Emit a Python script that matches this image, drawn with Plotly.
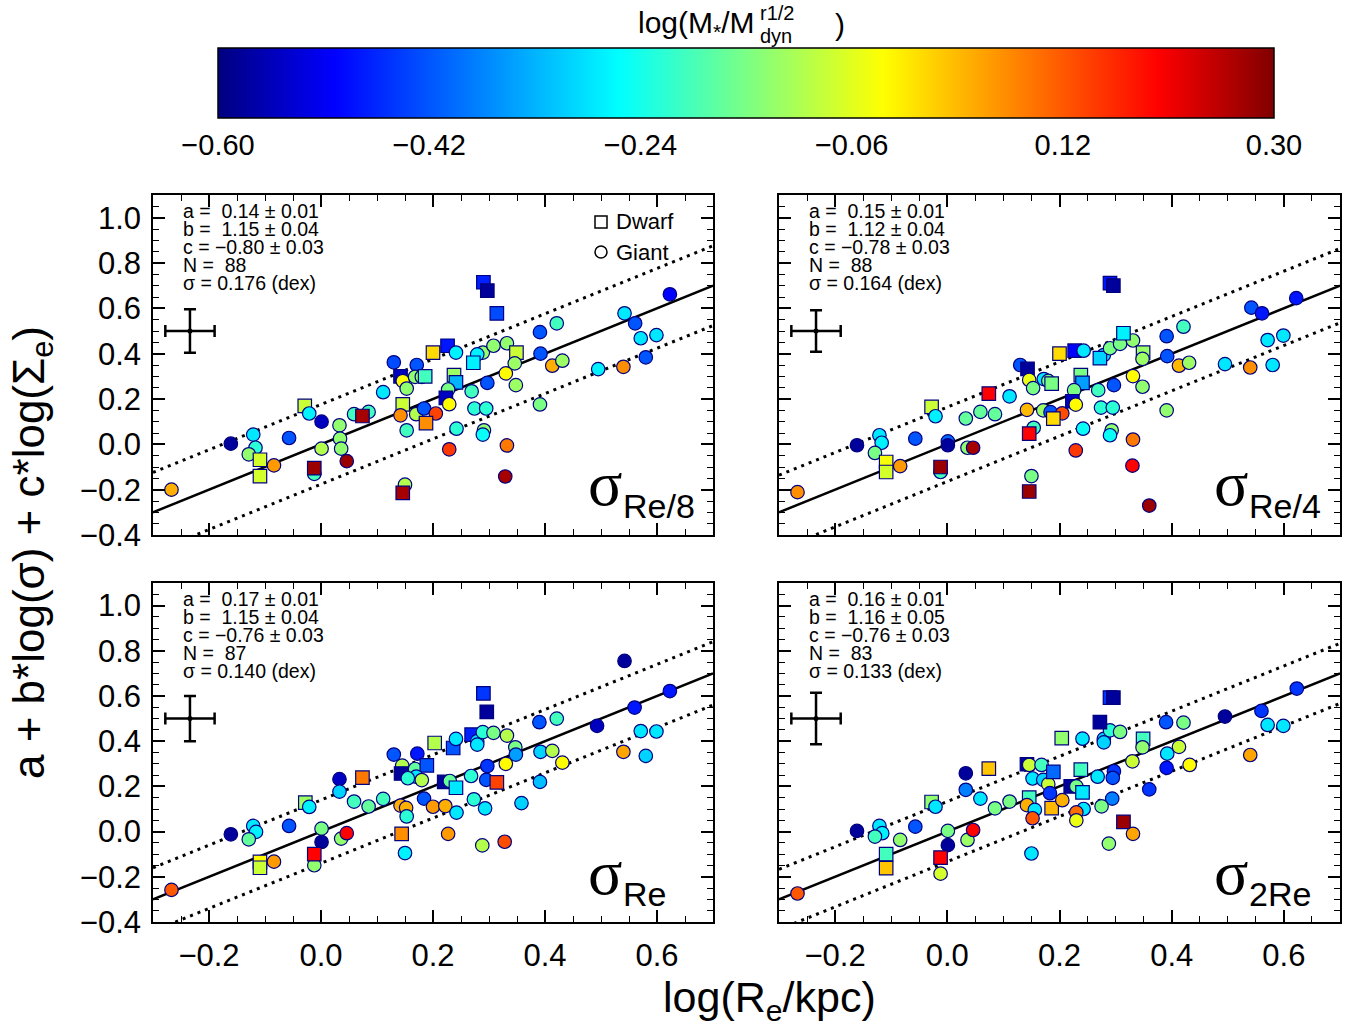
import plotly.graph_objects as go
import numpy as np

W, H = 1356, 1032
FONT = "Liberation Sans"

# ---------------- data ----------------
# panel 1: sigma_Re/8
re8_x = [-0.267,-0.161,-0.121,-0.117,-0.129,-0.109,-0.109,-0.084,-0.057,-0.029,-0.021,0.001,-0.012,-0.012,0.001,0.033,0.034,0.036,0.046,0.059,
         0.085,0.074,0.111,0.130,0.142,0.146,0.153,0.171,0.168,0.180,0.186,0.200,0.146,0.142,0.170,0.184,0.205,0.1875,0.153,0.150,
         0.146,0.290,0.297,0.314,0.226,0.241,0.289,0.308,0.332,0.279,0.272,0.349,0.346,0.391,0.421,0.392,0.413,0.431,0.330,0.297,
         0.348,0.269,0.274,0.295,0.391,0.291,0.289,0.242,0.229,0.332,0.329,0.2375,0.241,0.227,0.223,0.229,0.495,0.540,0.542,0.561,
         0.571,0.599,0.580,0.623]
re8_y = [-0.200,0.003,0.043,-0.015,-0.044,-0.068,-0.140,-0.093,0.028,0.170,0.136,0.100,-0.130,-0.105,-0.019,0.084,0.025,-0.019,-0.074,0.133,
         0.143,0.125,0.230,0.362,0.300,0.279,0.246,0.350,0.298,0.298,0.300,0.405,0.176,0.128,0.133,0.158,0.136,0.094,0.062,-0.178,
         -0.214,0.715,0.678,0.578,0.435,0.405,0.405,0.435,0.446,0.397,0.360,0.405,0.357,0.495,0.534,0.400,0.347,0.369,0.313,0.271,
         0.261,0.234,0.158,0.158,0.176,0.062,0.043,0.069,-0.022,-0.005,-0.142,0.305,0.273,0.242,0.205,0.177,0.332,0.342,0.578,0.534,
         0.468,0.482,0.384,0.662]
re8_c = [0.04,-0.58,-0.28,-0.22,-0.13,-0.07,-0.07,0.06,-0.42,-0.08,-0.27,-0.55,-0.20,0.28,-0.10,-0.13,-0.13,-0.13,0.28,-0.20,
         -0.20,0.27,-0.28,-0.43,-0.55,-0.03,-0.13,-0.42,-0.13,-0.13,-0.20,0.00,-0.08,0.07,-0.10,-0.42,0.14,0.07,-0.20,-0.10,
         0.27,-0.47,-0.58,-0.43,-0.48,-0.27,-0.13,-0.13,-0.13,-0.27,-0.27,-0.08,-0.12,-0.42,-0.20,-0.42,0.04,-0.12,-0.03,-0.42,
         -0.12,-0.20,-0.22,-0.22,-0.15,-0.13,-0.25,-0.22,0.15,0.09,0.27,-0.12,-0.33,-0.15,-0.55,-0.03,-0.27,0.07,-0.28,-0.42,
         -0.28,-0.28,-0.42,-0.50]
re8_d = [0,0,0,0,0,1,1,0,0,1,0,0,0,1,0,0,0,0,0,0,
         0,1,0,0,1,0,0,0,0,0,1,1,1,0,0,0,0,1,0,0,
         1,1,1,1,1,0,0,0,0,0,1,1,0,0,0,0,0,0,0,0,
         0,0,0,0,0,0,0,0,0,0,0,1,1,0,1,0,0,0,0,0,
         0,0,0,0]

# panel 2: sigma_Re/4
re4_x = [-0.267,-0.161,-0.121,-0.117,-0.129,-0.109,-0.109,-0.084,-0.057,-0.028,-0.021,0.001,0.001,-0.012,-0.012,0.033,0.036,0.046,0.059,0.085,
         0.074,0.111,0.130,0.143,0.146,0.153,0.172,0.180,0.186,0.200,0.142,0.171,0.184,0.205,0.189,0.154,0.146,0.150,0.146,0.227,
         0.243,0.279,0.272,0.290,0.308,0.331,0.314,0.349,0.348,0.391,0.392,0.238,0.241,0.226,0.223,0.229,0.269,0.297,0.331,0.348,
         0.274,0.295,0.391,0.242,0.293,0.290,0.229,0.331,0.330,0.360,0.290,0.296,0.421,0.413,0.431,0.495,0.540,0.542,0.561,0.571,
         0.599,0.580,0.622]
re4_y = [-0.211,-0.004,0.040,0.007,-0.038,-0.078,-0.122,-0.096,0.025,0.165,0.124,0.013,-0.004,-0.122,-0.100,0.114,-0.015,-0.015,0.143,0.133,
         0.224,0.212,0.350,0.333,0.284,0.248,0.288,0.280,0.268,0.400,0.152,0.150,0.142,0.137,0.113,0.073,0.047,-0.140,-0.208,0.413,
         0.413,0.394,0.380,0.424,0.443,0.458,0.490,0.405,0.377,0.477,0.389,0.305,0.271,0.239,0.190,0.175,0.239,0.261,0.301,0.254,
         0.162,0.162,0.150,0.069,0.062,0.040,-0.027,0.021,-0.094,-0.270,0.711,0.700,0.519,0.347,0.360,0.354,0.339,0.603,0.578,0.460,
         0.480,0.350,0.645]
re4_c = [0.07,-0.58,-0.28,-0.27,-0.15,-0.04,-0.07,0.06,-0.42,-0.08,-0.27,-0.40,-0.58,-0.20,0.28,-0.17,-0.13,0.27,-0.17,-0.17,
         0.20,-0.28,-0.42,-0.58,-0.05,-0.15,-0.28,-0.15,-0.15,0.00,0.03,-0.12,-0.42,0.13,0.00,-0.20,0.20,-0.15,0.28,-0.50,
         -0.28,-0.28,-0.30,-0.15,-0.15,-0.13,-0.27,-0.12,-0.12,-0.42,-0.42,-0.15,-0.35,-0.15,-0.55,-0.03,-0.20,-0.42,-0.03,-0.13,
         -0.22,-0.22,-0.13,-0.25,-0.13,-0.25,0.15,0.09,0.20,0.28,-0.48,-0.58,-0.20,0.03,-0.12,-0.28,0.07,-0.42,-0.48,-0.28,
         -0.28,-0.28,-0.48]
re4_d = [0,0,0,0,0,1,1,0,0,1,0,0,0,0,1,0,0,0,0,0,
         1,0,0,1,0,0,0,0,1,1,0,0,0,0,1,0,1,0,1,1,
         0,0,1,0,0,0,1,1,0,0,0,1,1,0,1,0,0,0,0,0,
         0,0,0,0,0,0,0,0,0,0,1,1,0,0,0,0,0,0,0,0,
         0,0,0]

# panel 3: sigma_Re
re_x = [-0.267,-0.161,-0.121,-0.116,-0.129,-0.109,-0.109,-0.084,-0.057,-0.028,-0.021,0.001,0.001,-0.012,-0.012,0.033,0.033,0.036,0.046,0.059,
        0.085,0.074,0.111,0.130,0.172,0.203,0.236,0.241,0.269,0.279,0.279,0.289,0.308,0.332,0.296,0.290,0.347,0.348,0.392,0.390,
        0.421,0.493,0.413,0.431,0.145,0.143,0.168,0.189,0.170,0.180,0.155,0.184,0.142,0.152,0.153,0.220,0.230,0.241,0.268,0.297,
        0.330,0.295,0.314,0.200,0.222,0.242,0.273,0.293,0.358,0.391,0.144,0.227,0.288,0.328,0.150,0.542,0.540,0.560,0.571,0.599,
        0.580,0.623]
re_y = [-0.258,-0.012,0.025,-0.001,-0.034,-0.134,-0.160,-0.133,0.025,0.128,0.109,0.013,-0.046,-0.149,-0.100,0.232,0.177,-0.031,-0.007,0.133,
        0.111,0.239,0.145,0.341,0.345,0.392,0.370,0.410,0.429,0.400,0.385,0.440,0.437,0.425,0.530,0.612,0.373,0.341,0.353,0.484,
        0.500,0.468,0.357,0.305,0.292,0.257,0.277,0.293,0.243,0.228,0.236,0.146,0.115,0.105,0.067,0.220,0.224,0.194,0.246,0.290,
        0.300,0.229,0.218,0.110,0.113,0.084,0.143,0.103,0.126,0.220,-0.010,-0.010,-0.061,-0.045,-0.095,0.755,0.353,0.549,0.445,0.443,
        0.335,0.622]
re_c = [0.12,-0.58,-0.28,-0.27,-0.17,-0.03,-0.08,0.06,-0.42,-0.12,-0.27,-0.15,-0.58,-0.13,0.20,-0.55,-0.30,-0.13,0.20,-0.20,
        -0.17,0.09,-0.20,-0.42,-0.48,-0.10,-0.42,-0.28,-0.47,-0.28,-0.28,-0.22,-0.15,-0.10,-0.58,-0.45,-0.15,-0.35,-0.30,-0.42,
        -0.20,-0.55,-0.10,-0.03,-0.10,-0.58,-0.17,-0.42,-0.28,-0.10,-0.22,-0.42,0.04,0.04,-0.22,-0.58,-0.17,-0.28,-0.22,-0.45,
        -0.03,-0.42,0.14,0.06,0.04,-0.28,-0.22,-0.28,-0.30,-0.32,0.07,0.06,-0.10,0.13,-0.27,-0.58,0.05,-0.48,-0.28,-0.28,
        -0.30,-0.48]
re_d = [0,0,0,0,0,1,1,0,0,1,0,0,0,0,1,0,0,0,0,0,
        0,1,0,0,0,1,1,0,1,0,0,0,0,0,1,1,0,0,0,0,
        0,0,0,0,0,1,0,1,0,0,0,0,0,0,0,1,0,1,0,0,
        0,0,1,0,0,0,0,0,0,0,1,0,0,0,0,0,0,0,0,0,
        0,0]

# panel 4: sigma_2Re
re2_x = [-0.267,-0.161,-0.121,-0.116,-0.129,-0.109,-0.109,-0.084,-0.057,-0.028,-0.021,0.001,0.001,-0.012,-0.012,0.033,0.033,0.036,0.046,0.059,
         0.085,0.111,0.074,0.142,0.146,0.168,0.152,0.171,0.180,0.189,0.146,0.142,0.156,0.152,0.186,0.183,0.150,0.204,0.241,0.279,
         0.279,0.290,0.308,0.349,0.348,0.390,0.392,0.391,0.272,0.290,0.296,0.238,0.220,0.230,0.241,0.268,0.297,0.295,0.330,0.294,
         0.360,0.205,0.243,0.230,0.230,0.275,0.314,0.331,0.288,0.421,0.495,0.413,0.432,0.540,0.560,0.571,0.599,0.623]
re2_y = [-0.274,0.003,0.025,-0.007,-0.022,-0.100,-0.162,-0.037,0.022,0.131,0.110,0.003,-0.060,-0.186,-0.115,0.258,0.185,-0.037,0.007,0.146,
         0.103,0.133,0.279,0.298,0.295,0.295,0.235,0.229,0.210,0.264,0.150,0.117,0.096,0.059,0.104,0.170,-0.097,0.414,0.411,0.410,
         0.395,0.448,0.441,0.410,0.373,0.484,0.345,0.282,0.484,0.593,0.593,0.274,0.200,0.200,0.174,0.243,0.267,0.238,0.311,0.146,
         0.187,0.139,0.100,0.085,0.050,0.112,0.043,-0.010,-0.053,0.482,0.509,0.375,0.295,0.339,0.534,0.472,0.468,0.633]
re2_c = [0.12,-0.58,-0.28,-0.27,-0.20,-0.20,0.02,-0.13,-0.42,-0.13,-0.28,-0.15,-0.58,-0.07,0.20,-0.58,-0.38,-0.12,0.20,-0.28,
         -0.15,-0.15,0.02,-0.58,-0.08,-0.20,-0.28,-0.30,-0.08,-0.40,-0.20,0.04,-0.28,0.12,0.03,-0.45,-0.28,-0.13,-0.28,-0.30,
         -0.30,-0.22,-0.15,-0.20,-0.13,-0.42,-0.28,-0.48,-0.58,-0.45,-0.58,-0.20,-0.58,-0.15,-0.28,-0.28,-0.45,-0.42,-0.08,-0.38,
         -0.45,0.04,-0.28,0.10,-0.05,-0.15,0.28,0.05,-0.13,-0.15,-0.58,-0.08,-0.03,0.05,-0.45,-0.28,-0.28,-0.45]
re2_d = [0,0,0,0,0,1,1,0,0,1,0,0,0,0,1,0,0,0,0,0,
         0,0,1,1,0,0,0,0,0,1,1,0,0,0,1,0,0,1,0,0,
         0,0,0,1,0,0,0,0,1,1,1,1,1,0,1,0,0,0,0,0,
         0,0,0,0,0,0,1,0,0,0,0,0,0,0,0,0,0,0]

panel_names = ["Re/8", "Re/4", "Re", "2Re"]
fit_a = ["0.14", "0.15", "0.17", "0.16"]
fit_b = ["1.15", "1.12", "1.15", "1.16"]
fit_berr = ["0.04", "0.04", "0.04", "0.05"]
fit_c = ["\u22120.80", "\u22120.78", "\u22120.76", "\u22120.76"]
fit_n = ["88", "88", "87", "83"]
fit_sigma = [0.176, 0.164, 0.140, 0.133]
err_y = [0.096, 0.092, 0.100, 0.114]
err_x = 0.044
err_pos = (-0.234, 0.50)

cb_ticks = [-0.60, -0.42, -0.24, -0.06, 0.12, 0.30]
cb_labels = ["\u22120.60", "\u22120.42", "\u22120.24", "\u22120.06", "0.12", "0.30"]
x_ticks = [-0.2, 0.0, 0.2, 0.4, 0.6]
x_labels = ["\u22120.2", "0.0", "0.2", "0.4", "0.6"]
y_ticks = [-0.4, -0.2, 0.0, 0.2, 0.4, 0.6, 0.8, 1.0]
y_labels = ["\u22120.4", "\u22120.2", "0.0", "0.2", "0.4", "0.6", "0.8", "1.0"]
x_range = [-0.3, 0.7]
y_range = [-0.4, 1.1]
cmin, cmax = -0.6, 0.3

jet = [[0.0, "#000080"], [0.11, "#0000FF"], [0.38, "#00FFFF"],
       [0.63, "#FFFF00"], [0.89, "#FF0000"], [1.0, "#800000"]]

panels = [
    (re8_x, re8_y, re8_c, re8_d),
    (re4_x, re4_y, re4_c, re4_d),
    (re_x, re_y, re_c, re_d),
    (re2_x, re2_y, re2_c, re2_d),
]

# pixel boxes of the four plotting areas (left, right, top, bottom)
boxes = [(153, 713, 195, 535), (779, 1340, 195, 535),
         (153, 713, 583, 922), (779, 1340, 583, 922)]


def fx(p):
    return p / W


def fy(p):
    return 1 - p / H


fig = go.Figure()
annotations = []
shapes = []

for i, (px_, py_, pc_, pd_) in enumerate(panels):
    k = "" if i == 0 else str(i + 1)
    xa, ya = "x" + k, "y" + k
    l, r, t, b = boxes[i]
    sig = fit_sigma[i]
    lx = np.array(x_range)
    # fit line and +-sigma lines
    fig.add_trace(go.Scatter(x=lx, y=lx, mode="lines", xaxis=xa, yaxis=ya,
                             line=dict(color="black", width=2.5), showlegend=False, hoverinfo="skip"))
    for s in (sig, -sig):
        fig.add_trace(go.Scatter(x=lx, y=lx + s, mode="lines", xaxis=xa, yaxis=ya,
                                 line=dict(color="black", width=3, dash="3px,5px"),
                                 showlegend=False, hoverinfo="skip"))
    # data
    marker = dict(color=pc_, cmin=cmin, cmax=cmax, colorscale=jet, size=13.5,
                  symbol=["square" if d else "circle" for d in pd_],
                  line=dict(color="#000080", width=1.2))
    if i == 0:
        marker["showscale"] = True
        marker["colorbar"] = dict(
            orientation="h", xref="container", yref="container",
            x=fx(746), xanchor="center", y=fy(48), yanchor="top",
            len=1056, lenmode="pixels", thickness=70, thicknessmode="pixels",
            outlinewidth=1.5, outlinecolor="black", xpad=0, ypad=0,
            tickvals=cb_ticks, ticktext=cb_labels, ticks="outside", ticklen=2,
            tickcolor="rgba(0,0,0,0)", tickfont=dict(size=29, family=FONT, color="black"))
    else:
        marker["showscale"] = False
    fig.add_trace(go.Scatter(x=px_, y=py_, mode="markers", xaxis=xa, yaxis=ya,
                             marker=marker, showlegend=False))
    # typical error
    fig.add_trace(go.Scatter(x=[err_pos[0]], y=[err_pos[1]], mode="markers", xaxis=xa, yaxis=ya,
                             marker=dict(color="black", size=5),
                             error_x=dict(type="data", array=[err_x], color="black", thickness=2.5, width=6),
                             error_y=dict(type="data", array=[err_y[i]], color="black", thickness=2.5, width=6),
                             showlegend=False))
    # fit parameter text
    lines = ["a =\u00a0\u00a0" + fit_a[i] + " \u00b1 0.01",
             "b =\u00a0\u00a0" + fit_b[i] + " \u00b1 " + fit_berr[i],
             "c = " + fit_c[i] + " \u00b1 0.03",
             "N =\u00a0\u00a0" + fit_n[i],
             "\u03c3 = %.3f (dex)" % sig]
    for j, txt in enumerate(lines):
        annotations.append(dict(text=txt, x=fx(l + 28), y=fy(t + 16 + 18 * j), xref="paper", yref="paper",
                                xanchor="left", yanchor="middle", showarrow=False,
                                font=dict(size=19.5, family=FONT, color="black")))
    # panel label
    annotations.append(dict(text="\u03c3", x=fx(l + 452), y=fy(t + 289), xref="paper", yref="paper",
                            xanchor="center", yanchor="middle", showarrow=False,
                            font=dict(size=64, family="Liberation Serif", color="black")))
    annotations.append(dict(text=panel_names[i], x=fx(l + 468), y=fy(t + 311), xref="paper", yref="paper",
                            xanchor="left", yanchor="middle", showarrow=False,
                            font=dict(size=34, family=FONT, color="black")))

# legend in first panel
l, r, t, b = boxes[0]
shapes.append(dict(type="rect", xref="paper", yref="paper", x0=fx(l + 442), x1=fx(l + 454),
                   y0=fy(t + 33), y1=fy(t + 21), line=dict(color="black", width=1.5)))
shapes.append(dict(type="circle", xref="paper", yref="paper", x0=fx(l + 442), x1=fx(l + 454),
                   y0=fy(t + 63), y1=fy(t + 51), line=dict(color="black", width=1.5)))
for j, name in enumerate(["Dwarf", "Giant"]):
    annotations.append(dict(text=name, x=fx(l + 461), y=fy(t + 27 + 30 * j), xref="paper", yref="paper",
                            xanchor="left", yanchor="middle", showarrow=False,
                            font=dict(size=22, family=FONT, color="black")))

# colorbar title
annotations.append(dict(text="log(M<sub>*</sub>/M", x=fx(757), y=fy(24), xref="paper", yref="paper",
                        xanchor="right", yanchor="middle", showarrow=False,
                        font=dict(size=30, family=FONT, color="black")))
annotations.append(dict(text="r1/2", x=fx(758), y=fy(13), xref="paper", yref="paper",
                        xanchor="left", yanchor="middle", showarrow=False,
                        font=dict(size=20, family=FONT, color="black")))
annotations.append(dict(text="dyn", x=fx(758), y=fy(36), xref="paper", yref="paper",
                        xanchor="left", yanchor="middle", showarrow=False,
                        font=dict(size=20, family=FONT, color="black")))
annotations.append(dict(text=")", x=fx(833), y=fy(24), xref="paper", yref="paper",
                        xanchor="left", yanchor="middle", showarrow=False,
                        font=dict(size=30, family=FONT, color="black")))

# axis titles
annotations.append(dict(text="a + b*log(\u03c3) + c*log(\u03a3<sub>e</sub>)", x=fx(32), y=fy(553),
                        xref="paper", yref="paper", xanchor="center", yanchor="middle",
                        textangle=-90, showarrow=False, font=dict(size=44, family=FONT, color="black")))
annotations.append(dict(text="log(R<sub>e</sub>/kpc)", x=fx(770), y=fy(1000),
                        xref="paper", yref="paper", xanchor="center", yanchor="middle",
                        showarrow=False, font=dict(size=43, family=FONT, color="black")))

layout = dict(width=W, height=H, margin=dict(l=0, r=0, t=0, b=0, autoexpand=False),
              paper_bgcolor="white", plot_bgcolor="white",
              annotations=annotations, shapes=shapes, showlegend=False)

tickfont = dict(size=31, family=FONT, color="black")
for i in range(4):
    k = "" if i == 0 else str(i + 1)
    l, r, t, b = boxes[i]
    common = dict(showgrid=False, zeroline=False, showline=True, linecolor="black", linewidth=1.5,
                  mirror="allticks", ticks="inside", ticklen=12, tickwidth=1.5, tickcolor="black",
                  minor=dict(ticks="inside", ticklen=6, dtick=0.05, tickwidth=1.2, tickcolor="black"),
                  tickfont=tickfont)
    layout["xaxis" + k] = dict(common, domain=[fx(l), fx(r)], range=x_range, anchor="y" + k,
                               tickvals=x_ticks, ticktext=x_labels,
                               showticklabels=(i >= 2), ticklabelstandoff=5)
    layout["yaxis" + k] = dict(common, domain=[fy(b), fy(t)], range=y_range, anchor="x" + k,
                               tickvals=y_ticks, ticktext=y_labels,
                               showticklabels=(i % 2 == 0), ticklabelstandoff=4)

fig.update_layout(**layout)
fig.write_html("out.html", config={"displayModeBar": False},
               post_script="document.body.style.margin='0';document.body.style.overflow='hidden';")
